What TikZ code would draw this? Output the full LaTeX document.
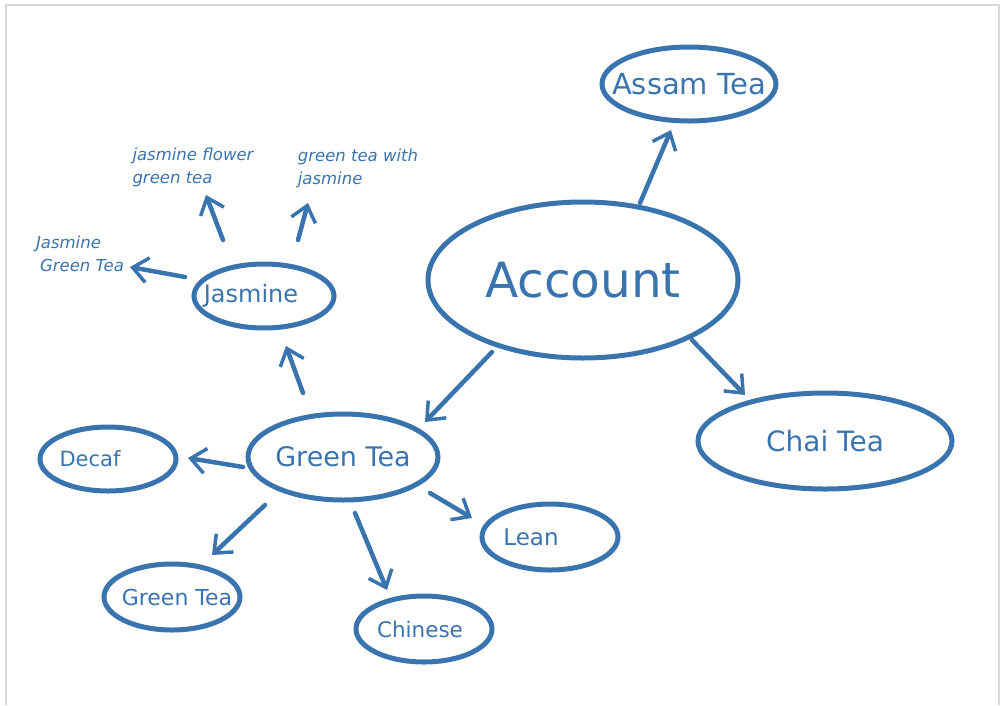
\documentclass[tikz,border=0pt]{standalone}
\usepackage{fontspec}
\setmainfont{DejaVu Sans}
\usetikzlibrary{shapes.geometric,arrows.meta}
\definecolor{ink}{HTML}{3A74AF}
\definecolor{frame}{HTML}{D9D9D9}
\newcommand\bubtext[2][0pt]{\makebox[0pt]{\hspace*{#1}#2}}
\tikzset{
  bubble/.style={ellipse, draw=ink, line width=5pt, inner sep=0pt, text=ink},
  lbl/.style={text=ink, align=left, font=\fontsize{16.5}{23}\selectfont\itshape},
  arr/.style={draw=ink, line width=4.5pt, line cap=round,
    -{Straight Barb[length=15pt,width=25pt,line width=3.5pt]}},
}
\begin{document}
\begin{tikzpicture}[x=1pt,y=-1pt]
\useasboundingbox (0,0) rectangle (1004,705);
\draw[frame, line width=1.5pt] (6,705) -- (6,5) -- (999,5) -- (999,705);

\node[bubble, minimum width=310pt, minimum height=156pt, font=\fontsize{48.5}{52}\selectfont] (acc) at (583,280) {\bubtext{Account}};
\node[bubble, minimum width=174pt, minimum height=74pt, font=\fontsize{29}{32}\selectfont] (assam) at (689,84) {\bubtext{Assam Tea}};
\node[bubble, minimum width=254pt, minimum height=96pt, font=\fontsize{28}{32}\selectfont] (chai) at (825,441) {\bubtext{Chai Tea}};
\node[bubble, minimum width=190pt, minimum height=86pt, font=\fontsize{27}{30}\selectfont] (gt) at (343,457) {\bubtext{Green Tea}};
\node[bubble, minimum width=140pt, minimum height=64pt, font=\fontsize{24}{26}\selectfont] (jas) at (264,296) {\bubtext[-26pt]{Jasmine}};
\node[bubble, minimum width=136pt, minimum height=64pt, font=\fontsize{21}{24}\selectfont] (decaf) at (108,459) {\bubtext[-36pt]{Decaf}};
\node[bubble, minimum width=136pt, minimum height=66pt, font=\fontsize{22}{24}\selectfont] (gt2) at (172,597) {\bubtext[10pt]{Green Tea}};
\node[bubble, minimum width=136pt, minimum height=66pt, font=\fontsize{21.5}{24}\selectfont] (chinese) at (424,629) {\bubtext[-8pt]{Chinese}};
\node[bubble, minimum width=136pt, minimum height=66pt, font=\fontsize{23}{26}\selectfont] (lean) at (550,537) {\bubtext[-38pt]{Lean}};

\node[lbl] (jgt) at (80,254) {Jasmine\\\hspace*{4pt}Green Tea};
\node[lbl] (jflower) at (193,167) {jasmine flower\\green tea};
\node[lbl] (gtwith) at (358,168) {green tea with\\jasmine};

\draw[arr] ([shift={(57,-77)}]acc.center) -- ([shift={(-18,46)}]assam.center);
\draw[arr] ([shift={(109,60)}]acc.center) -- ([shift={(-80,-46)}]chai.center);
\draw[arr] ([shift={(-91,72)}]acc.center) -- ([shift={(82,-35)}]gt.center);
\draw[arr] ([shift={(-40,-64)}]gt.center) -- ([shift={(22,50)}]jas.center);
\draw[arr] ([shift={(-100,10)}]gt.center) -- ([shift={(80,-1)}]decaf.center);
\draw[arr] ([shift={(-78,48)}]gt.center) -- ([shift={(40,-42)}]gt2.center);
\draw[arr] ([shift={(12,56)}]gt.center) -- ([shift={(-37,-39)}]chinese.center);
\draw[arr] ([shift={(87,36)}]gt.center) -- ([shift={(-78,-19)}]lean.center);
\draw[arr] ([shift={(-79,-19)}]jas.center) -- ([shift={(50,13)}]jgt.center);
\draw[arr] ([shift={(-41,-56)}]jas.center) -- ([shift={(13,28)}]jflower.center);
\draw[arr] ([shift={(34,-56)}]jas.center) -- ([shift={(-50,35)}]gtwith.center);
\end{tikzpicture}
\end{document}
